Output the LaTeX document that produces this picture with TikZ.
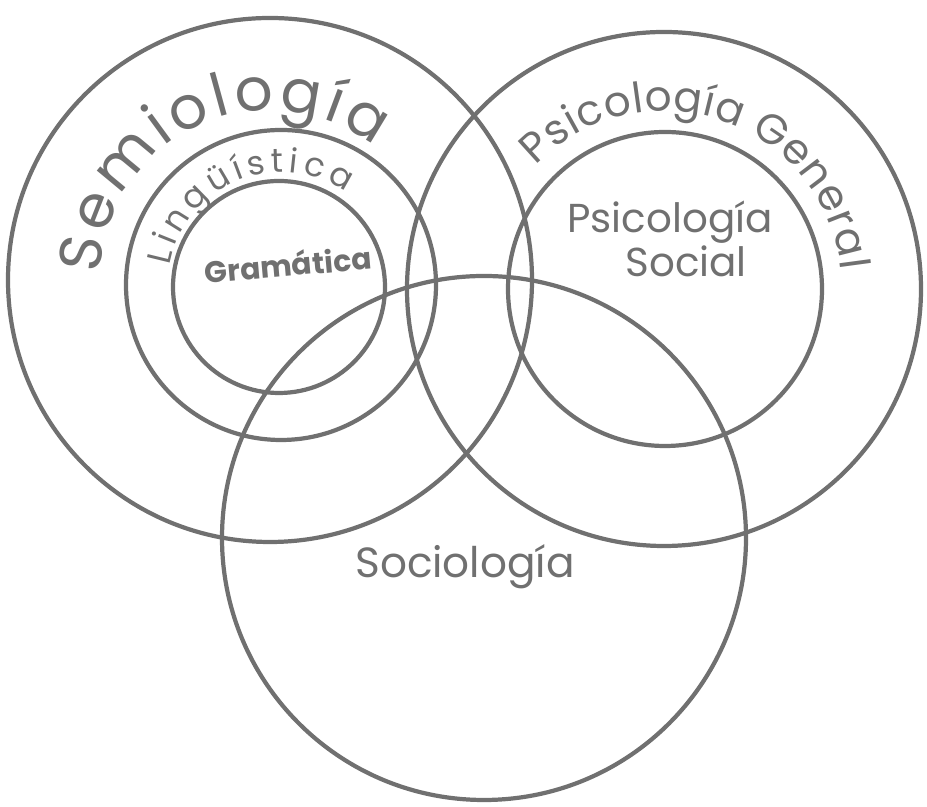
\documentclass[tikz,border=0pt]{standalone}
\usepackage{fontspec}
\setmainfont{Poppins}
\usetikzlibrary{decorations.text}
\definecolor{pencil}{RGB}{112,112,112}
\newcommand{\semifont}{\fontsize{34}{40}\selectfont}
\newcommand{\lingfont}{\fontsize{19}{22}\selectfont}
\newcommand{\psifont}{\fontsize{24}{28}\selectfont}

\begin{document}
\begin{tikzpicture}[x=0.02cm,y=0.02cm,
  ring/.style={draw=pencil,line width=2.4pt},
  word/.style={text=pencil,inner sep=0pt},
  arcword/.style={decorate,decoration={text along path,text={#1},
    text align={fit to path},text color=pencil}}]
\useasboundingbox (0,0) rectangle (927,807);
\coordinate (semio) at (270,527);
\coordinate (ling) at (281,522);
\coordinate (gram) at (279,520);
\coordinate (psigen) at (664,518);
\coordinate (psisoc) at (665,518);
\coordinate (socio) at (484,269);
\draw[ring] (semio) circle[radius=262];
\draw[ring] (ling) circle[radius=155];
\draw[ring] (gram) circle[radius=106];
\draw[ring] (psigen) circle[radius=257];
\draw[ring] (psisoc) circle[radius=157];
\draw[ring] (socio) circle[radius=262];
\path[arcword={|\semifont|Semiología}] (semio) ++(178:170) arc[start angle=178,end angle=52,radius=170];
\path[arcword={|\lingfont|Lingüística}] (ling) ++(170:113) arc[start angle=170,end angle=55,radius=113];
\path[arcword={|\psifont|Psicología General}] (psigen) ++(136:178) arc[start angle=136,end angle=6,radius=178];
\node[word,font=\fontsize{17}{20}\selectfont\bfseries,rotate=5] (gramtext) at (288,543) {Gramática};
\node[word,font=\fontsize{23}{25}\selectfont,align=center] (psisoctext) at (670,568) {Psicología\\\hspace*{0.8em}Social};
\node[word,font=\fontsize{24}{28}\selectfont] (sociotext) at (465,240) {Sociología};
\end{tikzpicture}
\end{document}
